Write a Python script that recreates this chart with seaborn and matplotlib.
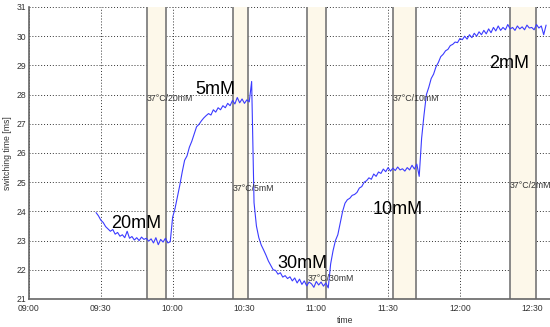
import matplotlib
matplotlib.use("Agg")
import matplotlib.pyplot as plt
import matplotlib.dates as mdates
import pandas as pd
import seaborn as sns

# switching time, one reading per minute starting 09:28
start_time = "2010-01-01 09:28"
switch_ms = [
    23.96, 23.85, 23.70, 23.62, 23.48, 23.40, 23.32, 23.38, 23.22, 23.28,
    23.15, 23.20, 23.10, 23.32, 23.08, 23.14, 23.02, 23.10, 23.00, 23.12,
    23.04, 23.08, 22.98, 23.06, 22.92, 23.10, 22.86, 23.04, 22.95, 23.08,
    22.92, 22.96, 23.80, 24.10, 24.50, 24.90, 25.35, 25.75, 25.90, 26.20,
    26.40, 26.65, 26.90, 26.98, 27.10, 27.20, 27.28, 27.35, 27.30, 27.48,
    27.40, 27.55, 27.48, 27.62, 27.55, 27.70, 27.62, 27.80, 27.68, 27.90,
    27.72, 27.85, 27.70, 27.82, 27.75, 28.45, 24.30, 23.50, 23.10, 22.85,
    22.68, 22.50, 22.30, 22.15, 22.00, 21.98, 21.85, 21.90, 21.75, 21.80,
    21.70, 21.76, 21.62, 21.72, 21.55, 21.68, 21.50, 21.62, 21.45, 21.58,
    21.52, 21.40, 21.60, 21.48, 21.58, 21.44, 21.55, 21.38, 22.20, 22.65,
    23.00, 23.20, 23.60, 24.00, 24.28, 24.40, 24.45, 24.55, 24.58, 24.65,
    24.80, 24.85, 25.00, 25.05, 25.15, 25.10, 25.28, 25.20, 25.35, 25.30,
    25.45, 25.36, 25.50, 25.38, 25.48, 25.40, 25.52, 25.42, 25.46, 25.38,
    25.50, 25.42, 25.58, 25.45, 25.62, 25.20, 26.50, 27.30, 28.00, 28.25,
    28.55, 28.70, 28.95, 29.10, 29.30, 29.38, 29.50, 29.55, 29.68, 29.72,
    29.80, 29.78, 29.92, 29.88, 30.00, 29.90, 30.05, 29.95, 30.10, 30.00,
    30.15, 30.05, 30.20, 30.08, 30.25, 30.12, 30.30, 30.18, 30.35, 30.20,
    30.30, 30.22, 30.40, 30.25, 30.30, 30.20, 30.35, 30.25, 30.32, 30.22,
    30.38, 30.28, 30.30, 30.22, 30.40, 30.28, 30.35, 30.05, 30.38,
]

# 37 °C incubation windows
band_start = ["09:49:10", "10:25:10", "10:56:20", "11:32:00", "12:20:50"]
band_end = ["09:57:20", "10:31:40", "11:04:05", "11:41:30", "12:31:40"]
band_text = ["37°C/20mM", "37°C/5mM", "37°C/30mM", "37°C/10mM", "37°C/2mM"]
band_text_y = [27.85, 24.8, 21.7, 27.87, 24.87]

# concentration labels
conc_text = ["20mM", "5mM", "30mM", "10mM", "2mM"]
conc_time = ["09:44:50", "10:17:50", "10:54:10", "11:34:00", "12:20:40"]
conc_y = [23.6, 28.16, 22.22, 24.05, 29.07]

tick_times = ["09:00", "09:30", "10:00", "10:30", "11:00", "11:30", "12:00", "12:30"]

day = "2010-01-01 "
df = pd.DataFrame({
    "time": pd.date_range(start_time, periods=len(switch_ms), freq="1min"),
    "switching": switch_ms,
})

sns.set_theme(style="white")
plt.rcParams["font.family"] = ["Liberation Sans", "DejaVu Sans"]

fig = plt.figure(figsize=(5.5, 3.27), dpi=100)
# axes run past the right edge of the picture, as in the source export
ax = fig.add_axes([29 / 550, 28 / 327, 632 / 550, 292 / 327])

for s, e in zip(band_start, band_end):
    x0 = pd.Timestamp(day + s)
    x1 = pd.Timestamp(day + e)
    ax.axvspan(x0, x1, color="#fdf8ea", zorder=1, lw=0)
    ax.axvline(x0, color="#808080", lw=1.3, zorder=2)
    ax.axvline(x1, color="#808080", lw=1.3, zorder=2)

sns.lineplot(data=df, x="time", y="switching", ax=ax, color="#3b3bff",
             lw=0.8, estimator=None, zorder=3)

for s, t, y in zip(band_start, band_text, band_text_y):
    ax.text(pd.Timestamp(day + s), y, t, fontsize=6.3, color="#333333",
            ha="left", va="center", zorder=4)

for t, x, y in zip(conc_text, conc_time, conc_y):
    ax.text(pd.Timestamp(day + x), y, t, fontsize=13, color="black",
            ha="center", va="center", zorder=4)

ax.set_xlim(pd.Timestamp(day + "09:00"), pd.Timestamp(day + "13:24"))
ax.set_ylim(21, 31)
ax.set_yticks(range(21, 32))
ax.set_xticks([pd.Timestamp(day + t) for t in tick_times])
ax.xaxis.set_major_formatter(mdates.DateFormatter("%H:%M"))

ax.grid(True, color="#333333", lw=0.7, linestyle=(0, (1, 2)))
ax.set_axisbelow(True)
ax.tick_params(length=0, labelsize=6.2, labelcolor="#333333")
ax.tick_params(axis="x", pad=3.5)
ax.tick_params(axis="y", pad=2)

for side in ["top", "right"]:
    ax.spines[side].set_visible(False)
for side in ["left", "bottom"]:
    ax.spines[side].set_color("#666666")
    ax.spines[side].set_linewidth(1.2)

ax.set_xlabel("time", fontsize=6.2, color="#333333", labelpad=2)
ax.set_ylabel("switching time [ms]", fontsize=6.2, color="#333333", labelpad=3)

fig.savefig("out.png", dpi=100)
